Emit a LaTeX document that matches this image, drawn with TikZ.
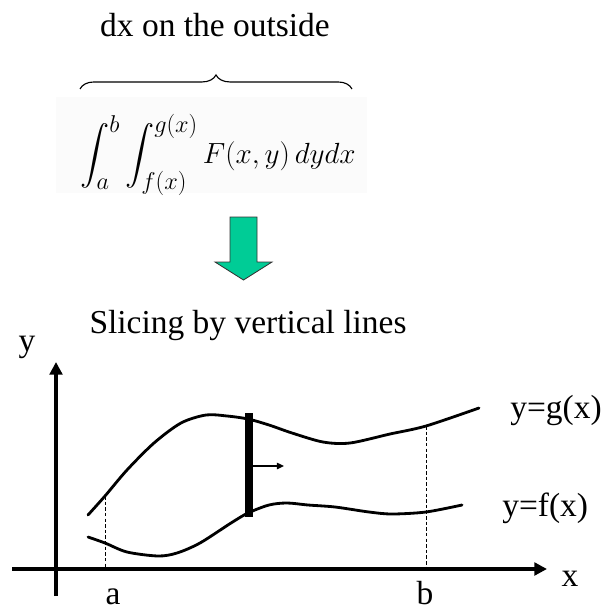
\documentclass[tikz,border=0pt]{standalone}
\usepackage{amsmath}
\usepackage{fontspec}
\setmainfont{Liberation Serif}
\usepackage{tikz}
\usetikzlibrary{positioning,arrows.meta,decorations.pathreplacing}
\definecolor{arrowGreen}{RGB}{0,204,150}
\tikzstyle{sheet} = [x = 0.025cm, y = -0.025cm]
\tikzstyle{axisLine} = [line width = 2.8pt, -{Triangle[length = 9pt, width = 9pt]}]
\tikzstyle{curveLine} = [line width = 2pt, line cap = round]
\tikzstyle{sliceLine} = [line width = 5pt]
\tikzstyle{pushArrow} = [line width = 1pt, -{Triangle[length = 5pt, width = 4.5pt]}]
\tikzstyle{boundLine} = [line width = .6pt, dash pattern = on 2.5pt off 1.5pt]
\tikzstyle{labelText} = [font = \fontsize{23.8}{28}\selectfont, inner sep = 0pt]
\tikzstyle{braceStyle} = [line width = .8pt, decorate, decoration = {brace, amplitude = 10pt, aspect = .5}]
\tikzstyle{bigArrow} = [draw = black!80, line width = .6pt, fill = arrowGreen]
\newcommand{\boundLine}[2]{\draw [boundLine] (#1) -- (#2);}
\newcommand{\axisLabel}[3]{\node [labelText, anchor = base] (#1) at (#2) {#3};}

\begin{document}
\begin{tikzpicture}[sheet]
  \useasboundingbox (0,0) rectangle (605,611);

  % formula on top
  \node [labelText, anchor = base] (outside) at (215,37) {dx on the outside};
  \coordinate (braceLeft) at (80,89);
  \coordinate (braceRight) at (352,89);
  \draw [braceStyle] (braceLeft) -- (braceRight);
  \fill [black!1.5] (56,97) rectangle (367,193);
  \node [inner sep = 0pt, font = \fontsize{22.8}{27}\selectfont] (formula) at (218,155)
    {$\displaystyle \int_a^b \int_{f(x)}^{g(x)} F(x,y)\,dydx$};

  % green arrow
  \draw [bigArrow] (230,217) -- (257,217) -- (257,262) -- (272,262) -- (243.5,280)
    -- (215,262) -- (230,262) -- cycle;

  \node [labelText, anchor = base] (slicing) at (248,333) {Slicing by vertical lines};

  % axes
  \coordinate (origin) at (56,569);
  \coordinate (xStart) at (12,569);
  \coordinate (xEnd) at (547,569);
  \coordinate (yStart) at (56,596);
  \coordinate (yEnd) at (56,362);
  \draw [axisLine] (xStart) -- (xEnd);
  \draw [axisLine] (yStart) -- (yEnd);
  \axisLabel{xLabel}{570,586}{x}
  \axisLabel{yLabel}{27,351}{y}
  \axisLabel{aLabel}{113,604}{a}
  \axisLabel{bLabel}{425,604}{b}

  % curves
  \draw [curveLine] plot [smooth] coordinates {(88,515) (105,496) (127,470) (154,443)
    (181,423) (206,415) (227,416) (248,419) (269,425) (292,433) (323,442) (350,443)
    (390,434) (426,426) (479,408)};
  \draw [curveLine] plot [smooth] coordinates {(88,537) (105,543) (127,552) (158,556)
    (177,553) (200,543) (231,523) (248,513) (269,505) (287,503) (308,505) (335,507)
    (369,512) (392,514) (426,512) (462,505)};
  \node [labelText, anchor = west] (gLabel) at (510,410) {y=g(x)};
  \node [labelText, anchor = west] (fLabel) at (502,508) {y=f(x)};

  % bounds a and b
  \coordinate (ga) at (105,496);
  \coordinate (aFoot) at (105,569);
  \coordinate (gb) at (426,426);
  \coordinate (bFoot) at (426,569);
  \boundLine{ga}{aFoot}
  \boundLine{gb}{bFoot}

  % moving slice
  \coordinate (sliceTop) at (249,413);
  \coordinate (sliceBottom) at (249,517);
  \draw [sliceLine] (sliceTop) -- (sliceBottom);
  \coordinate (pushStart) at (252,466);
  \coordinate (pushEnd) at (284,466);
  \draw [pushArrow] (pushStart) -- (pushEnd);
\end{tikzpicture}
\end{document}
